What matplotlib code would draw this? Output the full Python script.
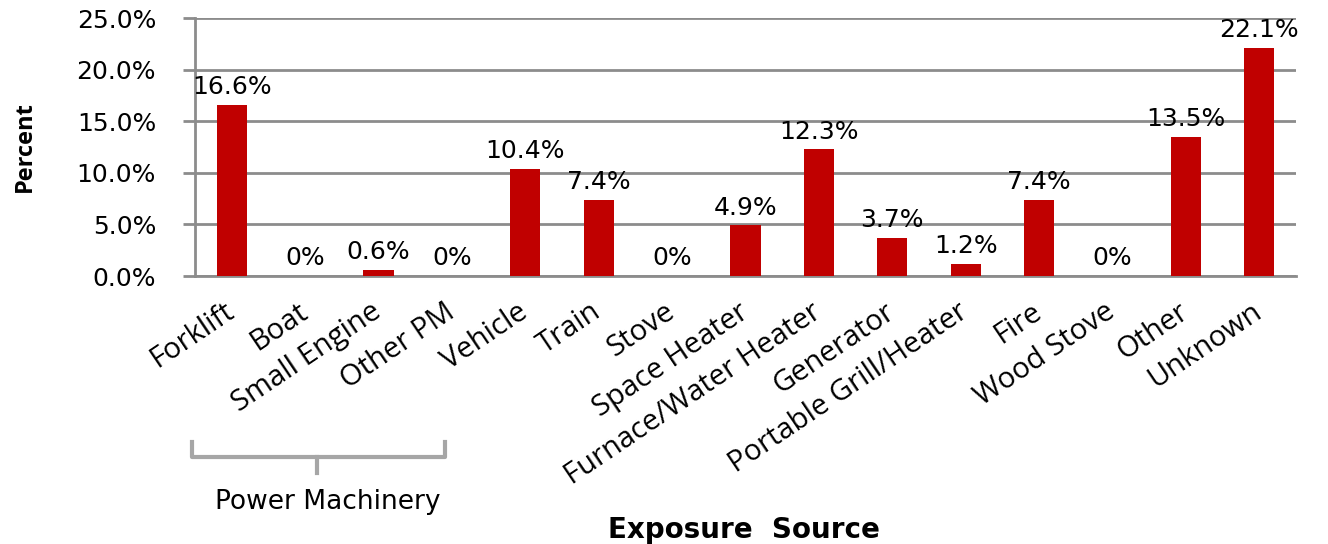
import matplotlib.pyplot as plt
import matplotlib.transforms as mtransforms
import numpy as np

sources = ["Forklift", "Boat", "Small Engine", "Other PM", "Vehicle", "Train",
           "Stove", "Space Heater", "Furnace/Water Heater", "Generator",
           "Portable Grill/Heater", "Fire", "Wood Stove", "Other", "Unknown"]
percent = [16.6, 0, 0.6, 0, 10.4, 7.4, 0, 4.9, 12.3, 3.7, 1.2, 7.4, 0, 13.5, 22.1]
value_labels = ["16.6%", "0%", "0.6%", "0%", "10.4%", "7.4%", "0%", "4.9%",
                "12.3%", "3.7%", "1.2%", "7.4%", "0%", "13.5%", "22.1%"]
yticks = [0, 5, 10, 15, 20, 25]

grid_col = "#8c8c8c"
bar_col = "#c00000"

fig = plt.figure(figsize=(13.28, 5.44), dpi=100)
ax = fig.add_axes([0.1468, 0.4926, 0.8291, 0.4743])

x = np.arange(len(sources))
ax.bar(x, percent, width=0.41, color=bar_col, zorder=3)

for xi, v, lab in zip(x, percent, value_labels):
    ax.annotate(lab, (xi, v), xytext=(0, 4), textcoords="offset points",
                ha="center", va="bottom", fontsize=18, family="DejaVu Sans",
                color="black", zorder=4)

ax.set_xlim(-0.5, len(sources) - 0.5)
ax.set_ylim(0, 25)
ax.set_yticks(yticks)
ax.set_yticklabels(["%.1f%%" % t for t in yticks], fontsize=18, family="DejaVu Sans")
ax.yaxis.grid(True, color=grid_col, linewidth=2, zorder=0)
ax.tick_params(axis="y", length=9, width=2, color=grid_col, pad=19)

ax.set_xticks(x)
ax.set_xticklabels(sources, rotation=34, ha="right", va="center",
                   rotation_mode="anchor", fontsize=21, family="Open Sans")
ax.tick_params(axis="x", length=0, pad=24)

for s in ["top", "right"]:
    ax.spines[s].set_visible(False)
ax.spines["left"].set_color(grid_col)
ax.spines["left"].set_linewidth(2)
ax.spines["bottom"].set_color(grid_col)
ax.spines["bottom"].set_linewidth(2)

ax.set_ylabel("Percent", fontsize=17, fontweight="bold", family="Open Sans")
ax.yaxis.set_label_coords(-0.1435, 0.5)

# bracket under the power machinery group
trans = mtransforms.blended_transform_factory(ax.transData, ax.transAxes)
bx0, bx1, bmid = -0.54, 2.9, 1.16
ax.plot([bx0, bx0, bx1, bx1], [-0.643, -0.70, -0.70, -0.643], transform=trans,
        color="#a6a6a6", linewidth=3, clip_on=False)
ax.plot([bmid, bmid], [-0.70, -0.764], transform=trans,
        color="#a6a6a6", linewidth=3, clip_on=False)
ax.text(1.31, -0.876, "Power Machinery", transform=trans, ha="center", va="center",
        fontsize=19, family="DejaVu Sans")

fig.text(0.560, 0.026, "Exposure  Source", ha="center", va="center",
         fontsize=20, fontweight="bold", family="DejaVu Sans")

fig.savefig("out.png", dpi=100)
